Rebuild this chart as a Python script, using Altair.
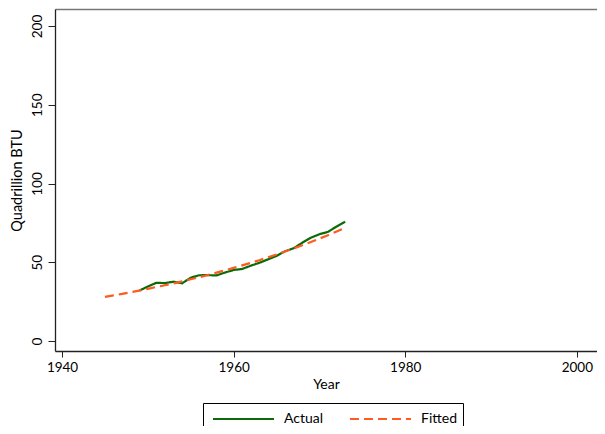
import altair as alt
import pandas as pd

years_actual = list(range(1949, 1974))
actual = [31.98, 34.6, 36.97, 36.75, 37.66, 36.64, 40.21, 41.75, 41.79, 41.65,
          43.47, 45.09, 45.74, 47.83, 49.64, 51.82, 54.02, 57.0, 58.9, 62.4,
          65.6, 67.8, 69.3, 72.7, 75.7]

years_fitted = list(range(1945, 1974))
fitted = [28.0, 29.0, 29.9, 31.0, 32.0, 33.1, 34.3, 35.4, 36.6, 37.9,
          39.2, 40.5, 41.9, 43.4, 44.9, 46.4, 48.0, 49.6, 51.3, 53.1,
          54.9, 56.8, 58.8, 60.8, 62.8, 65.0, 67.2, 69.5, 71.9]

series_names = ["Actual", "Fitted"]
series_colors = ["#0b6b0b", "#ff5a1f"]
x_ticks = [1940, 1960, 1980, 2000]
y_ticks = [0, 50, 100, 150, 200]

df = pd.concat([
    pd.DataFrame({"year": years_actual, "value": actual, "series": "Actual"}),
    pd.DataFrame({"year": years_fitted, "value": fitted, "series": "Fitted"}),
])

FONT = "Lato"

x_scale = alt.Scale(domain=[1939.18, 2002.35], nice=False, zero=False)
y_scale = alt.Scale(domain=[-6.35, 210.8], nice=False, zero=False)

legend_opts = dict(title=None, orient="none", direction="horizontal",
                   legendX=148, legendY=394, symbolType="M-0.6,0H5.5",
                   symbolSize=400, symbolStrokeWidth=2,
                   labelOffset=54, columnPadding=21, padding=5,
                   strokeColor="#000", labelFont=FONT,
                   labelFontSize=14, labelColor="#000")

lines = alt.Chart(df).mark_line(strokeWidth=2.2).encode(
    x=alt.X("year:Q", scale=x_scale,
            axis=alt.Axis(values=x_ticks, format="d", title="Year", grid=False,
                          tickSize=6, labelPadding=3, titlePadding=4,
                          domainColor="#222", tickColor="#222", domainWidth=1.3,
                          labelFont=FONT, labelFontSize=13.5, labelColor="#000",
                          titleFont=FONT, titleFontSize=14, titleFontWeight="normal",
                          titleColor="#000")),
    y=alt.Y("value:Q", scale=y_scale,
            axis=alt.Axis(values=y_ticks, title="Quadrillion BTU", grid=False,
                          tickSize=7, labelAngle=270, labelAlign="center",
                          labelBaseline="bottom", labelPadding=4, titlePadding=6,
                          domainColor="#222", tickColor="#222", domainWidth=1.3,
                          labelFont=FONT, labelFontSize=13.5, labelColor="#000",
                          titleFont=FONT, titleFontSize=14.5, titleFontWeight="normal",
                          titleColor="#000")),
    color=alt.Color("series:N", scale=alt.Scale(domain=series_names, range=series_colors),
                    legend=alt.Legend(**legend_opts)),
    strokeDash=alt.StrokeDash("series:N",
                              scale=alt.Scale(domain=series_names, range=[[1, 0], [9, 5]]),
                              legend=alt.Legend(**legend_opts)),
)

top_frame = alt.Chart(df).mark_line(opacity=0).encode(
    x=alt.X("year:Q", scale=x_scale,
            axis=alt.Axis(orient="top", labels=False, ticks=False, title=None,
                          grid=False, domainColor="#777", domainWidth=1.3)),
    y=alt.Y("value:Q", scale=y_scale, axis=None),
)

chart = alt.layer(lines, top_frame).resolve_axis(x="independent", y="independent").properties(
    width=542, height=342,
    autosize=alt.AutoSizeParams(type="none"),
    padding={"left": 47, "top": 1, "right": 0, "bottom": 75},
).configure_view(stroke=None).configure(background="white")

chart.save("out.html", embed_options={"renderer": "svg", "actions": False})
